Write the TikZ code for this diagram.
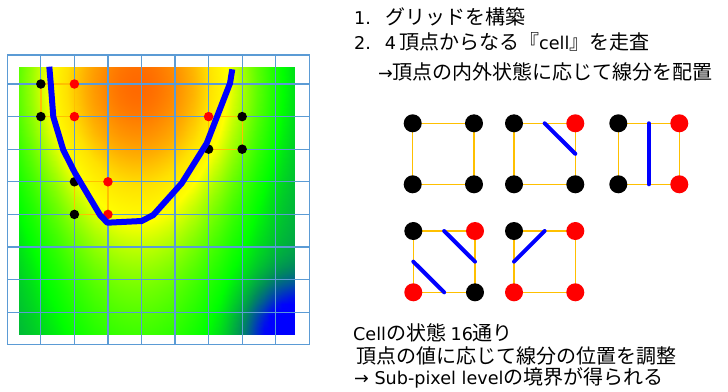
\documentclass[tikz,border=0pt]{standalone}
\usepackage{fontspec}
\usepackage{pgfplots}
\pgfplotsset{compat=1.18}
\usetikzlibrary{calc}
\newfontfamily\jp{Noto Sans CJK JP}
\newfontfamily\lat[Scale=0.88]{DejaVu Sans}
\definecolor{gridblue}{RGB}{91,155,213}
\definecolor{cellorange}{RGB}{255,192,0}
\definecolor{ptred}{RGB}{255,0,0}
\definecolor{curveblue}{RGB}{0,0,255}
\begin{document}
\begin{tikzpicture}[x=1pt,y=-1pt,
  gridline/.style={draw=gridblue,line width=1.2pt},
  celledge/.style={draw=cellorange,line width=1.3pt},
  mapdot/.style={circle,inner sep=0pt,minimum size=9.5pt},
  legdot/.style={circle,inner sep=0pt,minimum size=18pt},
  blk/.style={fill=black},
  rd/.style={fill=ptred},
  contour/.style={draw=curveblue,line width=6pt,line join=round},
  seg/.style={draw=curveblue,line width=4pt,line cap=round},
  txt/.style={anchor=base west,inner sep=0pt,font=\jp\fontsize{20}{24}\selectfont}
]
\useasboundingbox (0,0) rectangle (728,391);
\fill[white] (0,0) rectangle (728,391);

% heat map
\begin{axis}[at={(19pt,-334pt)},anchor=south west,width=276pt,height=267.3pt,
  scale only axis,hide axis,view={0}{90},
  xmin=19,xmax=295,ymin=-334,ymax=-66.7,enlargelimits=false,
  colormap={hm}{rgb255(0cm)=(0,0,255) rgb255(1.5cm)=(0,140,90) rgb255(2.7cm)=(0,255,0) rgb255(6cm)=(255,255,0) rgb255(7.5cm)=(255,225,0) rgb255(9cm)=(255,175,0) rgb255(11.5cm)=(255,105,0)},
  point meta min=-0.15,point meta max=1]
\addplot3[surf,shader=interp,domain=19:295,y domain=-334:-66.7,samples=45]
 {exp(-((x-138)/100)*((x-138)/100))/(1+1.22*((-y-85)/137)*((-y-85)/137)) - 0.3*exp(-((x-295)/45)*((x-295)/45)-((-y-334)/45)*((-y-334)/45))};
\end{axis}

% grid
\draw[gridline] (7.3,55) rectangle (309.3,344.8);
\foreach \k in {1,...,8} \draw[gridline] ({7.3+33.55*\k},55) -- ({7.3+33.55*\k},344.8);
\foreach \k in {0,...,7} \draw[gridline] (7.3,{84+32.6*\k}) -- (309.3,{84+32.6*\k});

% dots on the map
\node[mapdot] (a1) at (40.85,84) {};
\node[mapdot] (a2) at (74.4,84) {};
\node[mapdot] (a3) at (40.85,116.6) {};
\node[mapdot] (a4) at (74.4,116.6) {};
\node[mapdot] (b1) at (74.4,181.8) {};
\node[mapdot] (b2) at (107.95,181.8) {};
\node[mapdot] (b3) at (74.4,214.4) {};
\node[mapdot] (b4) at (107.95,214.4) {};
\node[mapdot] (c1) at (208.6,116.6) {};
\node[mapdot] (c2) at (242.15,116.6) {};
\node[mapdot] (c3) at (208.6,149.2) {};
\node[mapdot] (c4) at (242.15,149.2) {};
\draw[celledge] (a1.center) -- (a2.center) -- (a4.center) -- (a3.center) -- cycle;
\draw[celledge] (b1.center) -- (b2.center) -- (b4.center) -- (b3.center) -- cycle;
\draw[celledge] (c1.center) -- (c2.center) -- (c4.center) -- (c3.center) -- cycle;
\foreach \n in {a1,a3,b1,b3,c2,c3,c4} \fill[black] (\n) circle (4.75pt);
\foreach \n in {a2,a4,b2,b4,c1} \fill[ptred] (\n) circle (4.75pt);

% contour
\draw[contour] (49.3,66.7) -- (50.7,83) -- (53.3,116.7) -- (63.3,150) -- (75,173)
  -- (100,215) -- (107.3,222.7) -- (141.7,221) -- (153.3,215) -- (181.7,183.3)
  -- (206.7,143.3) -- (230,83.3) -- (232.3,69.3);

% legend cells
\coordinate (A1) at (412.7,123.3); \coordinate (A2) at (474,123.3);
\coordinate (A3) at (412.7,184.3); \coordinate (A4) at (474,184.3);
\coordinate (B1) at (514,123.3);   \coordinate (B2) at (575.3,123.3);
\coordinate (B3) at (514,184.3);   \coordinate (B4) at (575.3,184.3);
\coordinate (C1) at (618.3,123.3); \coordinate (C2) at (679.3,123.3);
\coordinate (C3) at (618.3,184.3); \coordinate (C4) at (679.3,184.3);
\coordinate (D1) at (413.3,231);   \coordinate (D2) at (475,231);
\coordinate (D3) at (413.3,292.3); \coordinate (D4) at (475,292.3);
\coordinate (E1) at (514,231);     \coordinate (E2) at (575.3,231);
\coordinate (E3) at (514,292.3);   \coordinate (E4) at (575.3,292.3);
\foreach \c in {A,B,C,D,E}
  \draw[celledge] (\c1) -- (\c2) -- (\c4) -- (\c3) -- cycle;
\foreach \n in {A1,A2,A3,A4,B1,B3,B4,C1,C3,D1,D4,E1}
  \node[legdot,blk] (n\n) at (\n) {};
\foreach \n in {B2,C2,C4,D2,D3,E2,E3,E4}
  \node[legdot,rd] (n\n) at (\n) {};
\draw[seg] ($(B1)!0.5!(B2)$) -- ($(B2)!0.5!(B4)$);
\draw[seg] ($(C1)!0.5!(C2)$) -- ($(C3)!0.5!(C4)$);
\draw[seg] ($(D1)!0.5!(D2)$) -- ($(D2)!0.5!(D4)$);
\draw[seg] ($(D1)!0.5!(D3)$) -- ($(D3)!0.5!(D4)$);
\draw[seg] ($(E1)!0.5!(E3)$) -- ($(E1)!0.5!(E2)$);

% texts
\node[txt] (t1) at (354,24) {{\lat 1.}\hspace{15pt}グリッドを構築};
\node[txt] (t2) at (354,49) {{\lat 2.}\hspace{14pt}{\lat 4}\hspace{3pt}頂点からなる『{\lat cell}』を走査};
\node[txt] (t3) at (378,79) {{\lat →}頂点の内外状態に応じて線分を配置};
\node[txt] (t4) at (353,340) {{\lat Cell}の状態 {\lat 16}通り};
\node[txt] (t5) at (356,363) {頂点の値に応じて線分の位置を調整};
\node[txt] (t6) at (354,384) {{\lat → Sub-pixel level}の境界が得られる};
\end{tikzpicture}
\end{document}
